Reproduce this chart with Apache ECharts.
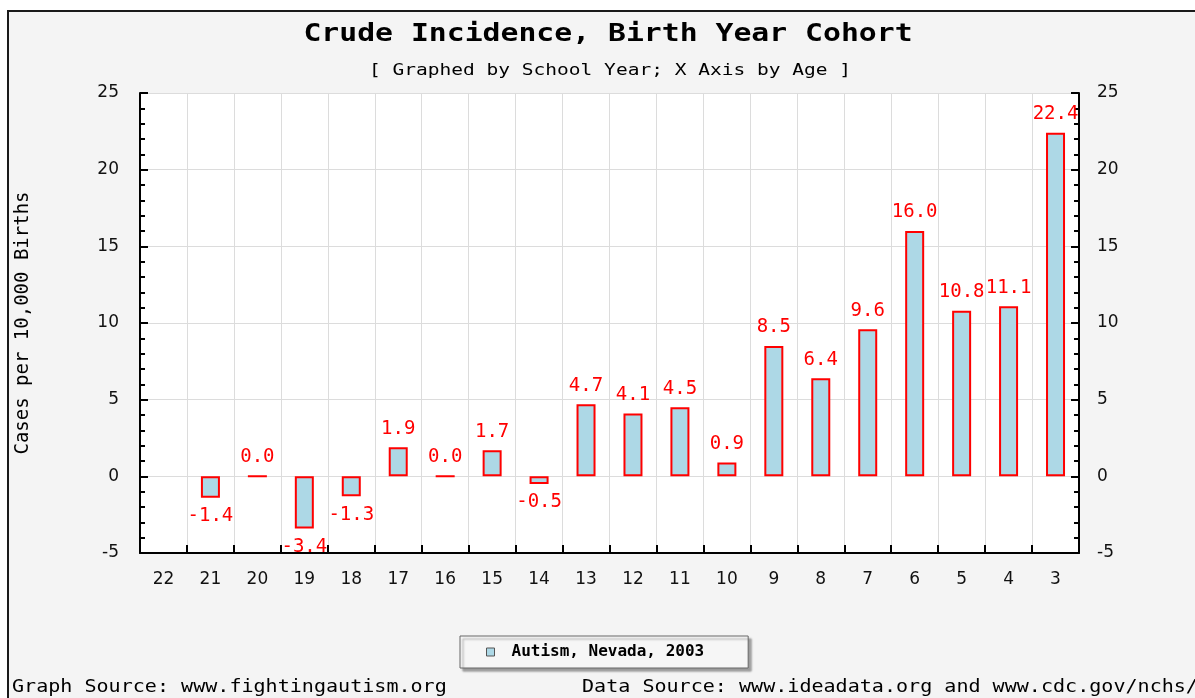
<!DOCTYPE html>
<html>
<head>
<meta charset="utf-8">
<script src="https://cdn.jsdelivr.net/npm/echarts@6/dist/echarts.min.js"></script>
<style>
  html, body { margin: 0; padding: 0; background: #fff; }
  #chart { width: 1195px; height: 698px; }
</style>
</head>
<body>
<div id="chart"></div>
<script>
// Ages on the x axis, oldest first
const ages = [ '22', '21', '20', '19', '18', '17', '16', '15', '14', '13', '12', '11', '10', '9', '8', '7', '6', '5', '4', '3' ];
// Cases per 10,000 births (no bar for age 22)
const incidence = [ null, -1.4, 0.0, -3.4, -1.3, 1.9, 0.0, 1.7, -0.5, 4.7, 4.1, 4.5, 0.9, 8.5, 6.4, 9.6, 16.0, 10.8, 11.1, 22.4 ];
const seriesName = 'Autism, Nevada, 2003';
const titleText = 'Crude Incidence, Birth Year Cohort';
const subtitleText = '[ Graphed by School Year; X Axis by Age ]';
const graphSource = 'Graph Source: www.fightingautism.org';
const dataSource = 'Data Source: www.ideadata.org and www.cdc.gov/nchs/';

const monoFont = 'DejaVu Sans Mono';
const sansFont = 'DejaVu Sans';

const chart = echarts.init( document.getElementById( 'chart' ) );

const barData = incidence.map( ( v ) => {
  if ( v === null )
    return '-';
  return {
    value: v,
    label: { position: v < 0 ? 'bottom' : 'top' }
  };
} );

// the original uses a wide pixel font, so texts get stretched a bit
function wideText( text, x, y, font, stretch, align ) {
  return {
    type: 'text',
    x: x,
    y: y,
    scaleX: stretch,
    style: { text: text, fill: '#000', font: font, textAlign: align, textVerticalAlign: 'middle' }
  };
}

const valueAxisBase = {
  type: 'value',
  min: -5,
  max: 25,
  interval: 5,
  axisLine: { show: true, lineStyle: { color: '#000', width: 2 } },
  axisTick: { show: true, inside: true, length: 8, lineStyle: { color: '#000', width: 2 } },
  minorTick: { show: true, splitNumber: 5, length: 5, lineStyle: { color: '#000', width: 2 } },
  axisLabel: { color: '#111', fontFamily: sansFont, fontSize: 17, margin: 21 }
};

chart.setOption( {
  backgroundColor: '#ffffff',
  animation: false,
  graphic: [
    {
      type: 'rect',
      z: -10,
      shape: { x: 8, y: 11, width: 1200, height: 700 },
      style: { fill: '#f4f4f4', stroke: '#1a1a1a', lineWidth: 2 }
    },
    wideText( titleText, 608, 35, 'bold 24px ' + monoFont, 1.24, 'center' ),
    wideText( subtitleText, 610, 71, '16px ' + monoFont, 1.22, 'center' ),
    wideText( graphSource, 12, 688, '17px ' + monoFont, 1.18, 'left' ),
    wideText( dataSource, 582, 688, '17px ' + monoFont, 1.18, 'left' )
  ],
  legend: {
    left: 460,
    top: 636,
    padding: [ 8, 44, 8, 26 ],
    itemWidth: 8,
    itemHeight: 8,
    icon: 'rect',
    backgroundColor: '#f6f6f6',
    borderColor: '#666',
    borderWidth: 1,
    shadowColor: 'rgba(0,0,0,0.35)',
    shadowOffsetX: 3,
    shadowOffsetY: 3,
    shadowBlur: 2,
    itemStyle: { borderColor: '#555', borderWidth: 1 },
    textStyle: { fontFamily: monoFont, fontSize: 16, fontWeight: 'bold', color: '#000', padding: [ 0, 0, 0, 12 ] },
    data: [ seriesName ]
  },
  grid: {
    left: 140,
    right: 116,
    top: 93,
    bottom: 145,
    outerBoundsMode: 'none',
    show: true,
    backgroundColor: '#ffffff',
    borderWidth: 0
  },
  xAxis: {
    type: 'category',
    data: ages,
    axisLine: { show: true, onZero: false, lineStyle: { color: '#000', width: 2 } },
    axisTick: { show: true, inside: true, length: 8, lineStyle: { color: '#000', width: 2 } },
    axisLabel: { color: '#111', fontFamily: sansFont, fontSize: 17, margin: 18 },
    splitLine: { show: true, lineStyle: { color: '#dcdcdc', width: 1 } }
  },
  yAxis: [
    Object.assign( {}, valueAxisBase, {
      position: 'left',
      name: 'Cases per 10,000 Births',
      nameLocation: 'middle',
      nameGap: 107,
      nameTextStyle: { fontFamily: monoFont, fontSize: 19, color: '#000' },
      splitLine: { show: true, lineStyle: { color: '#dcdcdc', width: 1 } }
    } ),
    Object.assign( {}, valueAxisBase, {
      position: 'right',
      axisLabel: Object.assign( {}, valueAxisBase.axisLabel, { margin: 18 } ),
      splitLine: { show: false }
    } )
  ],
  series: [
    {
      name: seriesName,
      type: 'bar',
      barWidth: 19,
      data: barData,
      itemStyle: { color: '#add8e6', borderColor: '#ff0000', borderWidth: 2 },
      label: {
        show: true,
        color: '#ff0000',
        fontFamily: monoFont,
        fontSize: 19,
        distance: 9,
        formatter: ( p ) => p.value.toFixed( 1 )
      }
    }
  ]
} );
</script>
</body>
</html>
